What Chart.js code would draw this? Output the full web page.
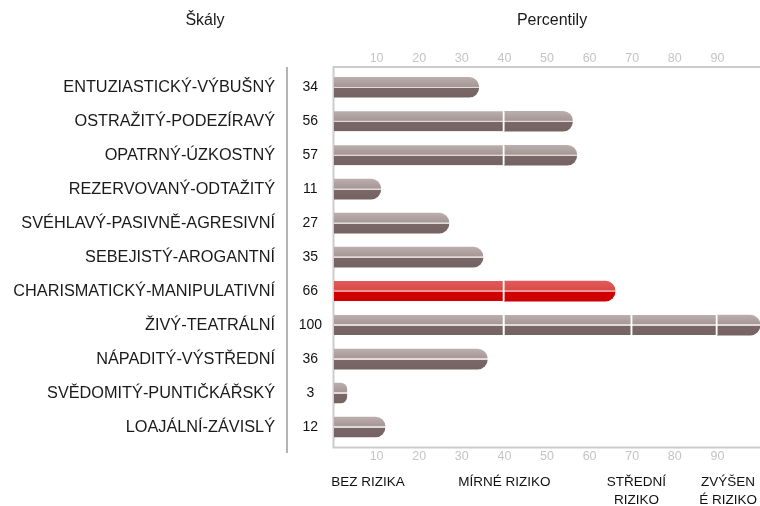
<!DOCTYPE html>
<html>
<head>
<meta charset="utf-8">
<script src="https://cdn.jsdelivr.net/npm/chart.js@4/dist/chart.umd.min.js"></script>
<style>
  html, body { margin: 0; padding: 0; background: #ffffff; }
  #wrap { width: 760px; height: 506px; }
</style>
</head>
<body>
<div id="wrap"><canvas id="c" width="760" height="506"></canvas></div>
<script>
// ---- data ----
const categories = [
  'ENTUZIASTICKÝ-VÝBUŠNÝ',
  'OSTRAŽITÝ-PODEZÍRAVÝ',
  'OPATRNÝ-ÚZKOSTNÝ',
  'REZERVOVANÝ-ODTAŽITÝ',
  'SVÉHLAVÝ-PASIVNĚ-AGRESIVNÍ',
  'SEBEJISTÝ-AROGANTNÍ',
  'CHARISMATICKÝ-MANIPULATIVNÍ',
  'ŽIVÝ-TEATRÁLNÍ',
  'NÁPADITÝ-VÝSTŘEDNÍ',
  'SVĚDOMITÝ-PUNTIČKÁŘSKÝ',
  'LOAJÁLNÍ-ZÁVISLÝ'
];
const percentiles = [34, 56, 57, 11, 27, 35, 66, 100, 36, 3, 12];
const highlighted = ['CHARISMATICKÝ-MANIPULATIVNÍ'];
const riskBounds = [0, 40, 70, 90, 100];
const riskLabels = [['BEZ RIZIKA'], ['MÍRNÉ RIZIKO'], ['STŘEDNÍ', 'RIZIKO'], ['ZVÝŠEN', 'É RIZIKO']];
const riskLabelPositions = [8, 40, 71, 92.5];
const axisTicks = [10, 20, 30, 40, 50, 60, 70, 80, 90];
const titleLeft = 'Škály';
const titleRight = 'Percentily';

// ---- segments (bars split at the risk boundaries) ----
const BAR_H = 20;
function barGradient(ctx) {
  const chart = ctx.chart;
  const ys = chart.scales.y;
  const red = highlighted.includes(categories[ctx.dataIndex]);
  if (!chart.chartArea || !ys) return red ? '#d20000' : '#7a6868';
  const yc = ys.getPixelForValue(ctx.dataIndex);
  const g = chart.ctx.createLinearGradient(0, yc - BAR_H / 2, 0, yc + BAR_H / 2);
  if (red) {
    g.addColorStop(0, '#e25a5a');
    g.addColorStop(0.46, '#d94a4a');
    g.addColorStop(0.47, '#ee9a9a');
    g.addColorStop(0.53, '#ee9a9a');
    g.addColorStop(0.54, '#d20000');
    g.addColorStop(1, '#cc0000');
  } else {
    g.addColorStop(0, '#bcaeae');
    g.addColorStop(0.46, '#a69696');
    g.addColorStop(0.47, '#e2d9d9');
    g.addColorStop(0.53, '#e2d9d9');
    g.addColorStop(0.54, '#7a6868');
    g.addColorStop(1, '#756363');
  }
  return g;
}

const datasets = [];
for (let k = 0; k < riskBounds.length - 1; k++) {
  const lo = riskBounds[k], hi = riskBounds[k + 1];
  datasets.push({
    data: percentiles.map(v => v > lo ? [lo, Math.min(v, hi)] : null),
    backgroundColor: barGradient,
    borderColor: '#ffffff',
    borderWidth: ctx => percentiles[ctx.dataIndex] > hi ? {right: 2, left: 0, top: 0, bottom: 0} : 0,
    borderRadius: ctx => percentiles[ctx.dataIndex] <= hi
      ? {topRight: 10, bottomRight: 10, topLeft: 0, bottomLeft: 0}
      : {topRight: 0, bottomRight: 0, topLeft: 0, bottomLeft: 0},
    borderSkipped: 'start',
    barThickness: BAR_H,
    grouped: false,
    xAxisID: 'x',
    yAxisID: 'y'
  });
}

const FONT = 'Liberation Sans, Arial, sans-serif';

const decor = {
  id: 'decor',
  beforeDatasetsDraw(chart) {
    const {ctx, chartArea: a, scales} = chart;
    ctx.save();
    // light frame
    ctx.strokeStyle = '#cccccc';
    ctx.lineWidth = 2;
    const top = a.top - 3.3, bot = a.bottom + 3.5, left = a.left - 0.5;
    ctx.beginPath();
    ctx.moveTo(chart.width, top); ctx.lineTo(left, top);
    ctx.lineTo(left, bot); ctx.lineTo(chart.width, bot);
    ctx.stroke();
    // dark separator between names and values
    ctx.strokeStyle = '#b4b4b4';
    ctx.lineWidth = 2;
    const sx = scales.y2.right - 1;
    ctx.beginPath();
    ctx.moveTo(sx, top); ctx.lineTo(sx, a.bottom + 9);
    ctx.stroke();
    ctx.restore();
  },
  afterDraw(chart) {
    const {ctx, chartArea: a} = chart;
    ctx.save();
    ctx.fillStyle = '#1a1a1a';
    ctx.font = '16px ' + FONT;
    ctx.textAlign = 'center';
    ctx.textBaseline = 'middle';
    ctx.fillText(titleLeft, 205, 21);
    ctx.fillText(titleRight, (a.left + a.right) / 2 + 5, 21);
    ctx.restore();
  }
};

new Chart(document.getElementById('c'), {
  type: 'bar',
  data: { labels: categories, datasets },
  plugins: [decor],
  options: {
    indexAxis: 'y',
    responsive: false,
    animation: false,
    layout: { padding: { top: 40, left: 0, right: 0, bottom: 0 } },
    plugins: { legend: { display: false }, tooltip: { enabled: false } },
    scales: {
      x: {
        type: 'linear', position: 'top', min: 0, max: 100,
        grid: { display: false, drawTicks: false },
        border: { display: false },
        afterBuildTicks: s => { s.ticks = axisTicks.map(v => ({ value: v })); },
        ticks: { color: '#c4c4c4', font: { size: 12.5, family: FONT }, padding: 4, maxRotation: 0, autoSkip: false },
        afterFit: s => { s.height = 30.3; s.paddingLeft = 0; s.paddingRight = 0; }
      },
      xb: {
        type: 'linear', position: 'bottom', min: 0, max: 100, weight: 0,
        grid: { display: false, drawTicks: false },
        border: { display: false },
        afterBuildTicks: s => { s.ticks = axisTicks.map(v => ({ value: v })); },
        ticks: { color: '#c4c4c4', font: { size: 12.5, family: FONT }, padding: 5, maxRotation: 0, autoSkip: false },
        afterFit: s => { s.height = 24; s.paddingLeft = 0; s.paddingRight = 0; }
      },
      xr: {
        type: 'linear', position: 'bottom', min: 0, max: 100, weight: 1,
        grid: { display: false, drawTicks: false },
        border: { display: false },
        afterBuildTicks: s => { s.ticks = riskLabelPositions.map(v => ({ value: v })); },
        ticks: {
          color: '#111111', font: { size: 13.5, family: FONT, lineHeight: 1.35 }, padding: 5,
          maxRotation: 0, autoSkip: false,
          callback: (v, i) => riskLabels[i]
        },
        afterFit: s => { s.height = 38; s.paddingLeft = 0; s.paddingRight = 0; }
      },
      y: {
        type: 'category', position: 'left', weight: 0, offset: true,
        grid: { display: false, drawTicks: false },
        border: { display: false },
        ticks: {
          color: '#111111', font: { size: 14, family: FONT }, crossAlign: 'center', padding: 12,
          autoSkip: false,
          callback: (v, i) => String(percentiles[i])
        },
        afterFit: s => { s.width = 46; }
      },
      y2: {
        type: 'category', position: 'left', weight: 1, offset: true, labels: categories,
        grid: { display: false, drawTicks: false },
        border: { display: false },
        ticks: {
          color: '#1a1a1a', font: { size: 16.3, family: FONT }, padding: 13, autoSkip: false
        },
        afterFit: s => { s.width = 288; }
      }
    }
  }
});
</script>
</body>
</html>
